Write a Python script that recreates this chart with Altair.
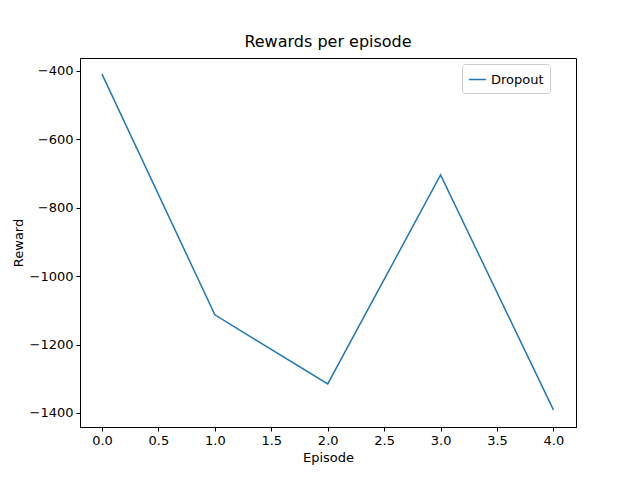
import altair as alt
import pandas as pd

episodes = [0, 1, 2, 3, 4]
rewards = [-409, -1113, -1315, -704, -1391]
series = ["Dropout"] * 5

df = pd.DataFrame({"Episode": episodes, "Reward": rewards, "s": series})

chart = alt.Chart(df).mark_line(color="#1f77b4", strokeWidth=1.5).encode(
    x=alt.X("Episode:Q", scale=alt.Scale(domain=[-0.195, 4.2], nice=False, zero=False),
            axis=alt.Axis(values=[0, 0.5, 1, 1.5, 2, 2.5, 3, 3.5, 4], format=".1f", grid=False,
                          title="Episode")),
    y=alt.Y("Reward:Q", scale=alt.Scale(domain=[-1441, -362], nice=False, zero=False),
            axis=alt.Axis(values=[-1400, -1200, -1000, -800, -600, -400], format="d", grid=False,
                          title="Reward")),
    color=alt.Color("s:N", scale=alt.Scale(range=["#1f77b4"]),
                    legend=alt.Legend(title=None, orient="none", legendX=382, legendY=6,
                                      symbolType="stroke", symbolStrokeWidth=1.5, symbolSize=300,
                                      labelFontSize=13, labelFont="DejaVu Sans", padding=6,
                                      strokeColor="#cccccc", fillColor="white", cornerRadius=3)),
).properties(
    width=496, height=369,
    title=alt.Title("Rewards per episode", fontSize=16, fontWeight="normal", font="DejaVu Sans", offset=8),
    autosize=alt.AutoSizeParams(type="none"),
    padding={"left": 72, "top": 50, "right": 56, "bottom": 45},
).configure_view(stroke="black", strokeWidth=1).configure_axis(
    labelFont="DejaVu Sans", titleFont="DejaVu Sans", labelFontSize=13, titleFontSize=13,
    titleFontWeight="normal", labelColor="black", titleColor="black",
    domainColor="black", tickColor="black", tickSize=4, labelPadding=3,
)

chart.save("out.html", embed_options={"renderer": "svg", "actions": False})
